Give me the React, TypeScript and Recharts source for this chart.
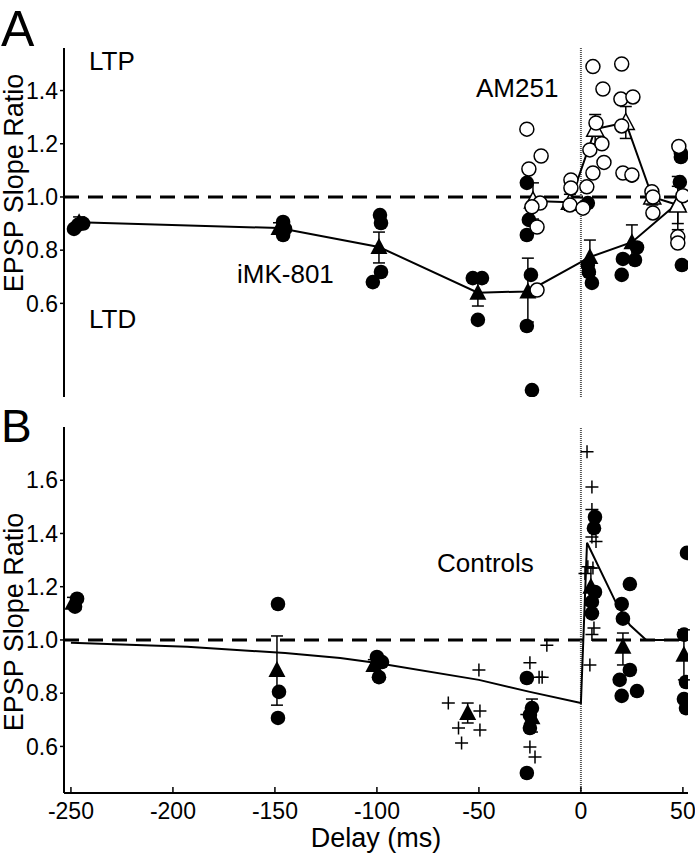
import React from "react";
import {
  ComposedChart,
  Scatter,
  Line,
  XAxis,
  YAxis,
  ErrorBar,
  ReferenceLine,
} from "recharts";

type Pt = { x: number; y: number; err?: [number, number] };

// ---- panel A: iMK-801 (filled) and AM251 (open) ----
const imkCells: Pt[] = [
  { x: -248.5, y: 0.88 }, { x: -244, y: 0.9 }, { x: -246.5, y: 0.895 },
  { x: -146, y: 0.906 }, { x: -145, y: 0.88 }, { x: -146, y: 0.857 },
  { x: -98.5, y: 0.932 }, { x: -98, y: 0.902 }, { x: -98, y: 0.718 }, { x: -102, y: 0.68 },
  { x: -53, y: 0.695 }, { x: -48.5, y: 0.695 }, { x: -50.5, y: 0.538 },
  { x: -24.5, y: 0.707 }, { x: -26.5, y: 0.515 }, { x: -24, y: 0.274 },
  { x: -26.5, y: 1.053 }, { x: -25.5, y: 0.914 }, { x: -26.5, y: 0.857 },
  { x: 3.4, y: 0.977 }, { x: 3.4, y: 0.744 }, { x: 3.9, y: 0.718 }, { x: 5.4, y: 0.677 },
  { x: 25, y: 1.08 }, { x: 27.5, y: 0.81 }, { x: 20.6, y: 0.767 }, { x: 26.5, y: 0.763 }, { x: 20, y: 0.707 },
  { x: 49, y: 1.165 }, { x: 49, y: 1.15 }, { x: 48.5, y: 1.056 }, { x: 49.5, y: 0.744 },
];

const imkMeans: Pt[] = [
  { x: -246, y: 0.905, err: [0.02, 0.02] },
  { x: -148, y: 0.883, err: [0.02, 0.02] },
  { x: -99, y: 0.812, err: [0.06, 0.056] },
  { x: -50.5, y: 0.64, err: [0.05, 0.05] },
  { x: -26, y: 0.645, err: [0.115, 0.125] },
  { x: 4.4, y: 0.774, err: [0.064, 0.064] },
  { x: 25, y: 0.83, err: [0.065, 0.065] },
  { x: 47.5, y: 0.977, err: [0.1, 0.1] },
];

const amCells: Pt[] = [
  { x: -26.5, y: 1.255 }, { x: -19.5, y: 1.154 }, { x: -25.5, y: 1.105 },
  { x: -20, y: 0.977 }, { x: -24, y: 0.963 }, { x: -21.5, y: 0.887 }, { x: -21.5, y: 0.65 },
  { x: -4.9, y: 1.064 }, { x: -4.9, y: 1.034 }, { x: -5.4, y: 0.97 }, { x: 1, y: 0.958 },
  { x: 2.9, y: 1.038 }, { x: 5.9, y: 1.09 }, { x: 4.4, y: 1.177 }, { x: 10.3, y: 1.2 },
  { x: 7.4, y: 1.278 }, { x: 5.9, y: 1.49 }, { x: 10.8, y: 1.406 }, { x: 11.3, y: 1.13 },
  { x: 20, y: 1.5 }, { x: 19.6, y: 1.368 }, { x: 25.5, y: 1.376 }, { x: 20, y: 1.267 },
  { x: 20.6, y: 1.09 }, { x: 25, y: 1.083 },
  { x: 34.8, y: 1.02 }, { x: 35.3, y: 1.0 }, { x: 35.3, y: 0.94 },
  { x: 48, y: 1.19 }, { x: 50, y: 1.005 }, { x: 47.5, y: 0.85 }, { x: 47.5, y: 0.827 },
];

const amMeans: Pt[] = [
  { x: -23.5, y: 0.985, err: [0.068, 0.068] },
  { x: -5.4, y: 0.98, err: [0.03, 0.03] },
  { x: 7, y: 1.255, err: [0.055, 0.055] },
  { x: 22, y: 1.28, err: [0.06, 0.06] },
  { x: 35, y: 1.0, err: [0.03, 0.03] },
  { x: 47.5, y: 0.97, err: [0.07, 0.07] },
];

// ---- panel B: controls ----
const ctrlCells: Pt[] = [
  { x: -247, y: 1.155 }, { x: -248, y: 1.125 },
  { x: -148.5, y: 1.135 }, { x: -148, y: 0.805 }, { x: -148.5, y: 0.707 },
  { x: -100, y: 0.936 }, { x: -97.5, y: 0.917 }, { x: -99, y: 0.86 },
  { x: -26.5, y: 0.857 }, { x: -24, y: 0.744 }, { x: -25, y: 0.718 }, { x: -25, y: 0.669 }, { x: -26.5, y: 0.5 },
  { x: 6.9, y: 1.462 }, { x: 6.4, y: 1.42 }, { x: 6.9, y: 1.18 }, { x: 5.4, y: 1.143 }, { x: 5.4, y: 1.1 },
  { x: 24, y: 1.21 }, { x: 20, y: 1.135 }, { x: 20.6, y: 1.08 }, { x: 24, y: 0.887 },
  { x: 19, y: 0.85 }, { x: 27.5, y: 0.808 }, { x: 20, y: 0.79 },
  { x: 52, y: 1.327 }, { x: 50.5, y: 1.02 }, { x: 51.5, y: 0.842 }, { x: 50.5, y: 0.778 }, { x: 51.5, y: 0.744 },
];

const ctrlPlus: Pt[] = [
  { x: -50, y: 0.887 }, { x: -65, y: 0.763 }, { x: -49.5, y: 0.733 },
  { x: -60, y: 0.669 }, { x: -49.5, y: 0.662 }, { x: -58.5, y: 0.613 },
  { x: -16.7, y: 0.98 }, { x: -25, y: 0.914 }, { x: -20.5, y: 0.86 }, { x: -19, y: 0.86 },
  { x: -26.5, y: 0.72 }, { x: -25, y: 0.598 }, { x: -22.5, y: 0.56 },
  { x: 3, y: 1.707 }, { x: 5.4, y: 1.575 }, { x: 5.4, y: 1.49 }, { x: 5.4, y: 1.387 },
  { x: 7.4, y: 1.37 }, { x: 3.4, y: 1.275 }, { x: 5.9, y: 1.27 }, { x: 2, y: 1.25 },
  { x: 6.4, y: 1.045 }, { x: 5.4, y: 1.02 }, { x: 4.4, y: 0.906 },
];

const ctrlMeans: Pt[] = [
  { x: -249, y: 1.14, err: [0.02, 0.02] },
  { x: -149, y: 0.887, err: [0.132, 0.128] },
  { x: -101.5, y: 0.906, err: [0.02, 0.02] },
  { x: -55.5, y: 0.726, err: [0.038, 0.037] },
  { x: -24, y: 0.71, err: [0.056, 0.068] },
  { x: 4.9, y: 1.2, err: [0.07, 0.07] },
  { x: 20.6, y: 0.974, err: [0.068, 0.052] },
  { x: 50.5, y: 0.944, err: [0.094, 0.094] },
];

const ctrlFit: Pt[] = [
  { x: -250, y: 0.989 }, { x: -193, y: 0.974 }, { x: -145, y: 0.951 },
  { x: -118, y: 0.932 }, { x: -100, y: 0.913 }, { x: -50, y: 0.85 },
  { x: -25, y: 0.805 }, { x: 0, y: 0.763 }, { x: 3, y: 1.365 },
  { x: 17, y: 1.143 }, { x: 24, y: 1.056 }, { x: 32, y: 1.0 }, { x: 52.5, y: 1.0 },
];

const yTicksA = [0.6, 0.8, 1.0, 1.2, 1.4];
const yTicksB = [0.6, 0.8, 1.0, 1.2, 1.4, 1.6];
const xTicks = [-250, -200, -150, -100, -50, 0, 50];

const X_DOMAIN: [number, number] = [-253.4, 52.5];
const FONT = "'Liberation Sans', Arial, Helvetica, sans-serif";

// marker shapes
const FilledDot = (p: any) => <circle cx={p.cx} cy={p.cy} r={7.3} fill="#000" />;
const OpenDot = (p: any) => (
  <circle cx={p.cx} cy={p.cy} r={7} fill="#fff" stroke="#000" strokeWidth={1.5} />
);
const triPath = (cx: number, cy: number) =>
  `M${cx},${cy - 9}L${cx + 8.5},${cy + 7}L${cx - 8.5},${cy + 7}Z`;
const FilledTri = (p: any) => <path d={triPath(p.cx, p.cy)} fill="#000" />;
const OpenTri = (p: any) => (
  <path d={triPath(p.cx, p.cy)} fill="#fff" stroke="#000" strokeWidth={1.5} />
);
const PlusMark = (p: any) => (
  <path
    d={`M${p.cx - 6.5},${p.cy}H${p.cx + 6.5}M${p.cx},${p.cy - 6.5}V${p.cy + 6.5}`}
    stroke="#000"
    strokeWidth={1.5}
    fill="none"
  />
);

const XTick = (p: any) => {
  const { x, y, payload } = p;
  return (
    <g>
      <line x1={x} x2={x} y1={y - 10} y2={y - 16} stroke="#000" strokeWidth={1.5} />
      <text x={x} y={y} dy="0.71em" textAnchor="middle" fontSize={23} fill="#000">
        {payload.value}
      </text>
    </g>
  );
};

const yAxisProps = {
  type: "number" as const,
  dataKey: "y",
  width: 64,
  allowDataOverflow: true,
  tickFormatter: (v: number) => v.toFixed(1),
  tick: { fontSize: 23, fill: "#000" },
  tickSize: 4,
  tickMargin: 2,
  tickLine: { stroke: "#000", strokeWidth: 1.5 },
  axisLine: { stroke: "#000", strokeWidth: 2 },
};

const dashed = { stroke: "#000", strokeWidth: 3, strokeDasharray: "15 9" };
const dotted = { stroke: "#555", strokeWidth: 2, strokeDasharray: "1 1" };

const App = () => {
  return (
    <div
      style={{
        position: "absolute",
        left: 0,
        top: 0,
        width: 695,
        height: 853,
        background: "#fff",
        fontFamily: FONT,
      }}
    >
      <div style={{ position: "absolute", left: 0, top: 0 }}>
        <ComposedChart width={695} height={410} margin={{ top: 48, right: 7, bottom: 13, left: 0 }}>
          <XAxis type="number" dataKey="x" domain={X_DOMAIN} allowDataOverflow hide />
          <YAxis {...yAxisProps} domain={[0.248, 1.56]} ticks={yTicksA} />
          <ReferenceLine y={1} {...dashed} />
          <ReferenceLine x={0} {...dotted} />
          <Scatter data={imkCells} shape={FilledDot} isAnimationActive={false} />
          <Line
            data={imkMeans}
            dataKey="y"
            type="linear"
            stroke="#000"
            strokeWidth={2}
            dot={false}
            activeDot={false}
            isAnimationActive={false}
          />
          <Scatter data={imkMeans} shape={FilledTri} isAnimationActive={false}>
            <ErrorBar dataKey="err" direction="y" width={6} stroke="#000" strokeWidth={1.5} />
          </Scatter>
          <Line
            data={amMeans}
            dataKey="y"
            type="linear"
            stroke="#000"
            strokeWidth={2}
            dot={false}
            activeDot={false}
            isAnimationActive={false}
          />
          <Scatter data={amMeans} shape={OpenTri} isAnimationActive={false}>
            <ErrorBar dataKey="err" direction="y" width={6} stroke="#000" strokeWidth={1.5} />
          </Scatter>
          <Scatter data={amCells} shape={OpenDot} isAnimationActive={false} />
        </ComposedChart>
      </div>

      <div style={{ position: "absolute", left: 0, top: 410 }}>
        <ComposedChart width={695} height={443} margin={{ top: 17, right: 7, bottom: 0, left: 0 }}>
          <XAxis
            type="number"
            dataKey="x"
            domain={X_DOMAIN}
            allowDataOverflow
            ticks={xTicks}
            height={60}
            tickSize={0}
            tickMargin={10}
            tick={XTick}
            axisLine={{ stroke: "#000", strokeWidth: 2 }}
            label={{ value: "Delay (ms)", position: "insideBottom", offset: 6, fontSize: 27, fill: "#000" }}
          />
          <YAxis {...yAxisProps} domain={[0.425, 1.8]} ticks={yTicksB} />
          <ReferenceLine y={1} {...dashed} />
          <ReferenceLine x={0} {...dotted} />
          <Line
            data={ctrlFit}
            dataKey="y"
            type="linear"
            stroke="#000"
            strokeWidth={2}
            dot={false}
            activeDot={false}
            isAnimationActive={false}
          />
          <Scatter data={ctrlPlus} shape={PlusMark} isAnimationActive={false} />
          <Scatter data={ctrlCells} shape={FilledDot} isAnimationActive={false} />
          <Scatter data={ctrlMeans} shape={FilledTri} isAnimationActive={false}>
            <ErrorBar dataKey="err" direction="y" width={6} stroke="#000" strokeWidth={1.5} />
          </Scatter>
        </ComposedChart>
      </div>

      <svg
        width={695}
        height={853}
        style={{ position: "absolute", left: 0, top: 0, pointerEvents: "none" }}
        fontFamily={FONT}
        fill="#000"
      >
        <text x={1} y={46} fontSize={50}>A</text>
        <text x={1} y={442} fontSize={46}>B</text>
        <text x={23} y={183} fontSize={27} textAnchor="middle" transform="rotate(-90 23 183)">
          EPSP Slope Ratio
        </text>
        <text x={23} y={622} fontSize={27} textAnchor="middle" transform="rotate(-90 23 622)">
          EPSP Slope Ratio
        </text>
        <text x={89} y={70} fontSize={26}>LTP</text>
        <text x={89} y={328} fontSize={26}>LTD</text>
        <text x={237} y={283} fontSize={26}>iMK-801</text>
        <text x={476} y={97} fontSize={26}>AM251</text>
        <text x={437} y={572} fontSize={26}>Controls</text>
      </svg>
    </div>
  );
};

export default App;
